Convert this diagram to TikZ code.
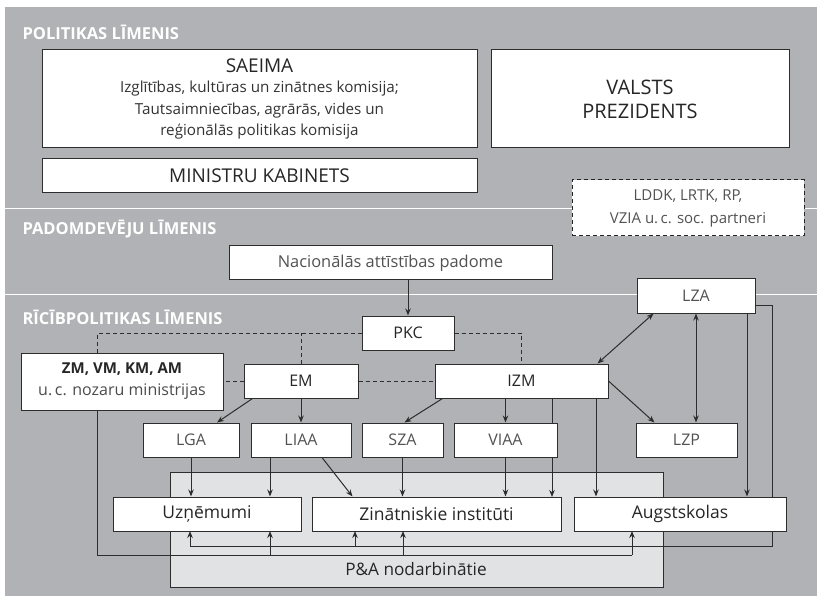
\documentclass[tikz,border=0pt]{standalone}
\usepackage{fontspec}
\setmainfont{Open Sans}
\usetikzlibrary{positioning,arrows.meta}

\definecolor{layergray}{RGB}{177,178,181}
\definecolor{panelgray}{RGB}{225,226,228}
\definecolor{inkgray}{RGB}{45,45,45}

\tikzset{
  box/.style={draw=inkgray, fill=white, line width=1pt, inner sep=0pt, minimum height=34,
    align=center, text=black!85, font=\fontsize{16}{21}\selectfont},
  lightbox/.style={box, text=black!68},
  lowbox/.style={box, font=\fontsize{17.5}{20}\selectfont},
  level/.style={anchor=west, text=white, font=\bfseries\fontsize{16.5}{18}\selectfont},
  link/.style={draw=inkgray, line width=1pt},
  arr/.style={link, -{Stealth[length=7pt,width=5.5pt]}},
  both/.style={link, {Stealth[length=7pt,width=5.5pt]}-{Stealth[length=7pt,width=5.5pt]}},
  weak/.style={link, dash pattern=on 4pt off 3pt},
}

\begin{document}
\begin{tikzpicture}[x=1pt, y=-1pt]
\useasboundingbox (0,0) rectangle (817,596);
\fill[layergray] (5,7) rectangle (817,596);
\draw[white, line width=1pt] (5,209) -- (817,209);
\draw[white, line width=1pt] (5,295) -- (817,295);

% level titles
\node[level] (lvlpol) at (19,32) {POLITIKAS LĪMENIS};
\node[level] (lvlpad) at (19,229) {PADOMDEVĒJU LĪMENIS};
\node[level] (lvlric) at (19,317) {RĪCĪBPOLITIKAS LĪMENIS};

% politikas limenis
\node[box, minimum width=435, minimum height=98] (saeima) at (259.5,99) {};
\node[text=black!85, font=\fontsize{19}{22}\selectfont] (saeimatitle) at (259.5,66) {SAEIMA};
\node[align=center, text=black!80, font=\fontsize{15.2}{21.5}\selectfont, below=1pt of saeimatitle] (saeimatext)
  {Izglītības, kultūras un zinātnes komisija;\\Tautsaimniecības, agrārās, vides un\\reģionālās politikas komisija};
\node[box, minimum width=298, minimum height=98, font=\fontsize{20}{24}\selectfont] (prez) at (640,99) {VALSTS\\PREZIDENTS};
\node[box, minimum width=435, font=\fontsize{19}{21}\selectfont] (mk) at (259.5,176) {MINISTRU KABINETS};
\node[lightbox, draw=black!85, dash pattern=on 4pt off 3pt, minimum width=232, minimum height=56,
  font=\fontsize{15}{23}\selectfont] (partneri) at (688,208) {LDDK, LRTK, RP,\\VZIA u.\,c. soc. partneri};

% padomdevēju limenis
\node[lightbox, minimum width=323, font=\fontsize{16.4}{21}\selectfont] (nap) at (390.5,263) {Nacionālās attīstības padome};

% ricibpolitikas limenis
\node[box, minimum width=92] (pkc) at (408,333) {PKC};
\node[lightbox, minimum width=118] (lza) at (696,296) {LZA};
\node[box, minimum width=202, minimum height=57, font=\bfseries\fontsize{15}{22}\selectfont]
  (zm) at (122,381.5) {ZM, VM, KM, AM\\{\mdseries\color{black!70}\fontsize{16}{22}\selectfont u.\,c. nozaru ministrijas}};
\node[box, minimum width=114] (em) at (301,381) {EM};
\node[box, minimum width=173] (izm) at (521.5,381) {IZM};

% P&A panelis
\draw[inkgray, line width=1pt, fill=panelgray] (170,472) rectangle (663,587);
\node[text=black!85, font=\fontsize{17.2}{20}\selectfont] (pa) at (416,569) {P\&A nodarbinātie};

% coordinates for the bus lines
\coordinate (rowtop) at (0,497);
\coordinate (rowbot) at (0,531);
\coordinate (busA) at (772,546);
\coordinate (tapA1) at (190,546);
\coordinate (tapA2) at (355,546);
\coordinate (busB) at (632,555);
\coordinate (tapB1) at (270,555);
\coordinate (tapB2) at (403,555);
\coordinate (zmdrop) at (97,410);
\coordinate (zmdash) at (97,353);
\coordinate (lzaout) at (755,305);
\coordinate (lzadown) at (747,313);
\coordinate (izmzi) at (552,398);
\coordinate (izmaug) at (596,398);

% lines running under the boxes
\draw[link] (lzaout) -| (busA) -- (tapA1);
\draw[link] (zmdrop) |- (busB);
\draw[arr] (tapA1) -- (tapA1 |- rowbot);
\draw[arr] (tapA2) -- (tapA2 |- rowbot);
\draw[arr] (tapB1) -- (tapB1 |- rowbot);
\draw[arr] (tapB2) -- (tapB2 |- rowbot);
\draw[arr] (busB) -- (busB |- rowbot);
\draw[arr] (izmzi) -- (izmzi |- rowtop);

% agencies
\node[lightbox, minimum width=96] (lga) at (191,440) {LGA};
\node[lightbox, minimum width=100] (liaa) at (301,440) {LIAA};
\node[lightbox, minimum width=81] (sza) at (402.5,440) {SZA};
\node[lightbox, minimum width=103] (viaa) at (505.5,440) {VIAA};
\node[lightbox, minimum width=101] (lzp) at (686.5,440) {LZP};

% lower boxes
\node[lowbox, minimum width=188] (uzn) at (207,514) {Uzņēmumi};
\node[lowbox, minimum width=249] (zin) at (436.5,514) {Zinātniskie institūti};
\node[lowbox, minimum width=212] (augst) at (680,514) {Augstskolas};

% dashed coordination lines
\draw[weak] (pkc.west) -| (zmdash);
\draw[weak] (em.north) -- (em.north |- pkc.west);
\draw[weak] (pkc.east) -| (izm.north);
\draw[weak] (em.west) -- (em.west -| zm.east);
\draw[weak] (em.east) -- (izm.west);

% arrows
\draw[arr] (pkc.north |- nap.south) -- (pkc.north);
\draw[arr] ([xshift=9]em.south west) -- ([xshift=26]lga.north);
\draw[arr] (em.south) -- (em.south |- liaa.north);
\draw[arr] ([xshift=8]izm.south west) -- ([xshift=2]sza.north);
\draw[arr] (viaa.north |- izm.south) -- (viaa.north);
\draw[arr] (izm.east) -- ([xshift=19]lzp.north west);
\draw[arr] (izmaug) -- (izmaug |- augst.north);
\draw[both] ([xshift=17]lza.south west) -- ([xshift=-11]izm.north east);
\draw[both] (lza.south) -- (lza.south |- lzp.north);
\draw[arr] (lzadown) -- (lzadown |- augst.north);
\draw[arr] (lga.south) -- (lga.south |- uzn.north);
\draw[arr] (liaa.south -| tapB1) -- (tapB1 |- uzn.north);
\draw[arr] ([xshift=21]liaa.south) -- ([xshift=41]zin.north west);
\draw[arr] (sza.south) -- (sza.south |- zin.north);
\draw[arr] (viaa.south) -- (viaa.south |- zin.north);
\end{tikzpicture}
\end{document}
